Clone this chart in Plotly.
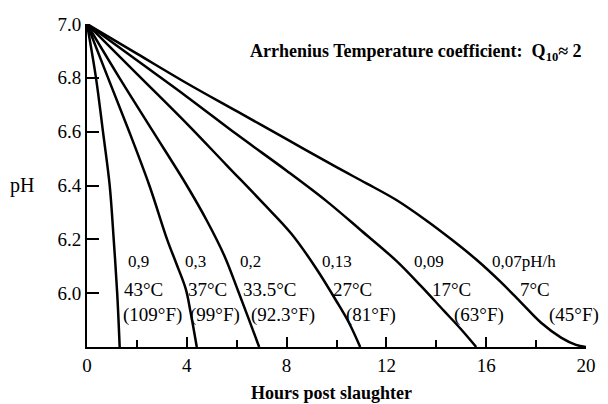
import plotly.graph_objects as go

# ---- data (hours post slaughter, pH) ----
h43 = [0, 0.36, 0.64, 0.91, 1.07, 1.21, 1.31]
p43 = [7.0, 6.8, 6.6, 6.4, 6.2, 6.0, 5.8]

h37 = [0, 0.8, 1.65, 2.5, 3.21, 3.58, 3.96, 4.15, 4.40]
p37 = [7.0, 6.81, 6.61, 6.40, 6.20, 6.11, 6.015, 5.93, 5.80]

h335 = [0, 1.3, 2.65, 4.0, 4.8, 5.5, 6.05, 6.5, 6.9]
p335 = [7.0, 6.8, 6.6, 6.40, 6.27, 6.14, 6.01, 5.90, 5.80]

h27 = [0, 2, 4, 5.6, 7, 8.2, 9.2, 10.0, 10.5, 10.95]
p27 = [7.0, 6.815, 6.63, 6.475, 6.34, 6.22, 6.09, 5.97, 5.89, 5.80]

h17 = [0, 2, 4, 6, 8, 9.6, 11, 12.4, 13.4, 14.3, 15.0, 15.6]
p17 = [7.0, 6.865, 6.73, 6.59, 6.455, 6.342, 6.232, 6.12, 6.025, 5.935, 5.865, 5.80]

h7 = [0, 2, 4, 6, 8, 10, 11.2, 12.4, 13.6, 14.6, 15.6, 16.6, 17.4, 18.2, 19.0, 19.6, 20]
p7 = [7.0, 6.89, 6.78, 6.676, 6.572, 6.468, 6.408, 6.346, 6.27, 6.20, 6.125, 6.04, 5.965, 5.89, 5.835, 5.808, 5.80]

rate_labels = ["0,9", "0,3", "0,2", "0,13", "0,09", "0,07pH/h"]
rate_x = [2.08, 4.33, 6.57, 10.0, 13.7, 17.5]
temp_labels = ["43°C", "37°C", "33.5°C", "27°C", "17°C", "7°C"]
temp_x = [2.25, 4.83, 7.34, 10.66, 14.6, 17.95]
fahr_labels = ["(109°F)", "(99°F)", "(92.3°F)", "(81°F)", "(63°F)", "(45°F)"]
fahr_x = [2.62, 5.15, 7.87, 11.4, 15.7, 19.5]
row_y = [6.119, 6.015, 5.919]

x_ticks = [0, 4, 8, 12, 16, 20]
x_minor = [2, 6, 10, 14, 18]
y_ticks = [6.0, 6.2, 6.4, 6.6, 6.8, 7.0]
y_ticktext = ["6.0", "6.2", "6.4", "6.6", "6.8", "7.0"]

FONT = "Liberation Serif"

fig = go.Figure()
for hx, py in [(h43, p43), (h37, p37), (h335, p335), (h27, p27), (h17, p17), (h7, p7)]:
    fig.add_trace(go.Scatter(x=hx, y=py, mode="lines",
                             line=dict(color="black", width=2.5, shape="spline", smoothing=1.0),
                             cliponaxis=False, hoverinfo="skip"))

ann = []
for t, x in zip(rate_labels, rate_x):
    ann.append(dict(x=x, y=row_y[0], text=t, showarrow=False, xanchor="center", yanchor="middle",
                    font=dict(size=17, family=FONT, color="black")))
for t, x in zip(temp_labels, temp_x):
    ann.append(dict(x=x, y=row_y[1], text=t, showarrow=False, xanchor="center", yanchor="middle",
                    font=dict(size=19, family=FONT, color="black")))
for t, x in zip(fahr_labels, fahr_x):
    ann.append(dict(x=x, y=row_y[2], text=t, showarrow=False, xanchor="center", yanchor="middle",
                    font=dict(size=19, family=FONT, color="black")))

ann.append(dict(xref="paper", yref="paper", x=0.322, y=0.912,
                text="<b>Arrhenius Temperature coefficient:&nbsp; Q<sub>10</sub>≈ 2</b>",
                showarrow=False, xanchor="left", yanchor="middle",
                font=dict(size=18, family=FONT, color="black")))
ann.append(dict(xref="paper", yref="y", x=-0.131, y=6.4, text="pH", showarrow=False,
                xanchor="center", yanchor="middle", font=dict(size=20, family=FONT, color="black")))
ann.append(dict(xref="x", yref="paper", x=9.8, y=-0.142, text="<b>Hours post slaughter</b>",
                showarrow=False, xanchor="center", yanchor="middle",
                font=dict(size=18, family=FONT, color="black")))

fig.update_layout(
    width=608, height=404,
    margin=dict(l=87, r=15, t=24, b=57),
    paper_bgcolor="white", plot_bgcolor="white",
    showlegend=False,
    font=dict(family=FONT, color="black"),
    annotations=ann,
    xaxis=dict(range=[0, 20], showline=True, linewidth=2, linecolor="black",
               ticks="inside", ticklen=10, tickwidth=1.5, tickcolor="black",
               tickvals=x_ticks, showgrid=False, zeroline=False,
               tickfont=dict(size=19, family=FONT, color="black"),
               minor=dict(tickvals=x_minor, ticks="inside", ticklen=7, tickwidth=1.5,
                          tickcolor="black", showgrid=False)),
    yaxis=dict(range=[5.8, 7.0], showline=True, linewidth=2, linecolor="black",
               ticks="inside", ticklen=12, tickwidth=1.5, tickcolor="black",
               tickvals=y_ticks, ticktext=y_ticktext, showgrid=False, zeroline=False,
               tickfont=dict(size=19, family=FONT, color="black")),
)

fig.write_html("out.html")
